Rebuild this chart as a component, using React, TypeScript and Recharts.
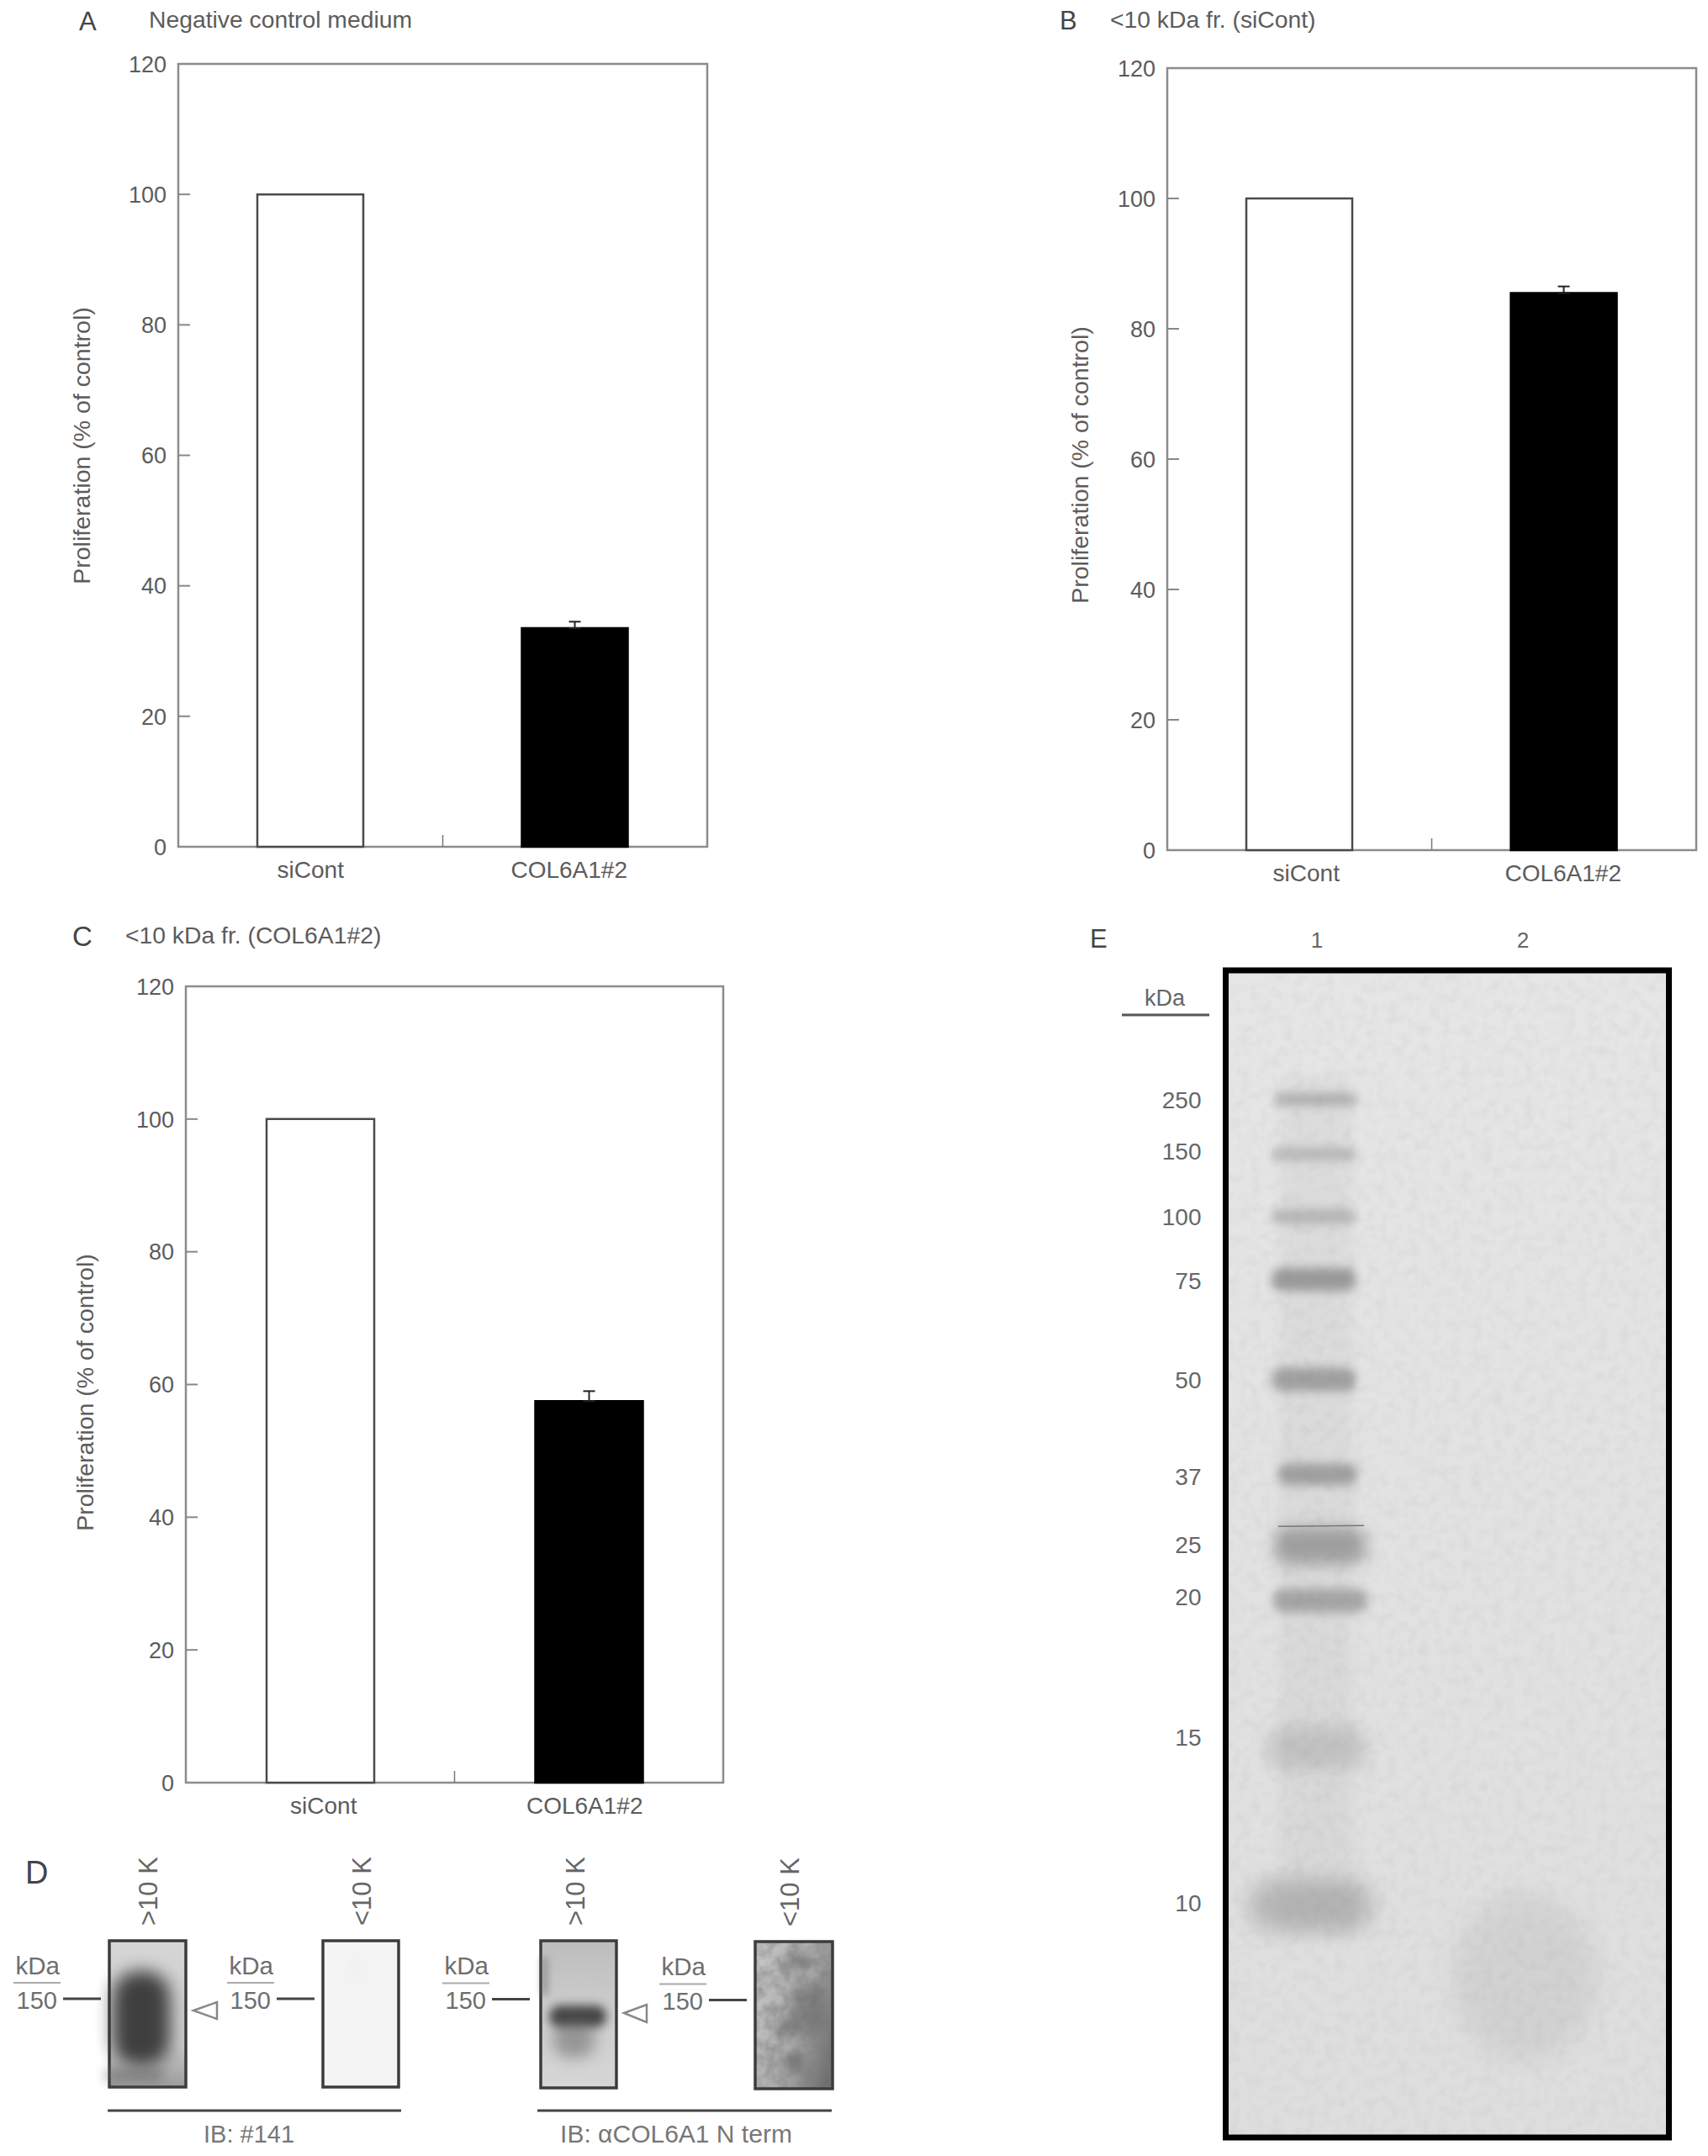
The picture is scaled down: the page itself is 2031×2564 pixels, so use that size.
import React from 'react';
import {
  BarChart, Bar, Cell, XAxis, YAxis, ErrorBar, ReferenceArea,
  ScatterChart, Scatter,
} from 'recharts';

const FONT = '"Liberation Sans", Arial, sans-serif';
const INK = '#5c5c5c';

// bar panels A, B, C
const categories = ['siCont', 'COL6A1#2'];
const yTicks = [0, 20, 40, 60, 80, 100, 120];
const panelAValues = [100, 33.5];
const panelAErrors = [null, 1];
const panelBValues = [100, 85.5];
const panelBErrors = [null, 1];
const panelCValues = [100, 57.5];
const panelCErrors = [null, 1.5];

// gel in panel E, migration = % of gel length from the top
const ladderKda = ['250', '150', '100', '75', '50', '37', '25', '20', '15', '10'];
const ladderLabelMigration = [11.06, 15.45, 21.07, 26.6, 35.05, 43.4, 49.2, 53.7, 65.7, 79.9];
const ladderBandMigration = [11.06, 15.74, 21.07, 26.48, 35.05, 43.2, 49.3, 54.0, 66.6, 80.1];
const laneTwoBandMigration = [86.3];

// looks for the gel bands, same order as above
const ladderLooks = [
  { w: 98, h: 14, op: 0.4, dx: -1 },
  { w: 100, h: 15, op: 0.32, dx: -4 },
  { w: 100, h: 18, op: 0.32, dx: -4 },
  { w: 100, h: 27, op: 0.56, dx: -4 },
  { w: 100, h: 28, op: 0.5, dx: -4 },
  { w: 94, h: 26, op: 0.5, dx: 1 },
  { w: 110, h: 44, op: 0.5, dx: 4, scar: true },
  { w: 112, h: 28, op: 0.46, dx: 4 },
  { w: 120, h: 50, op: 0.2, dx: 0 },
  { w: 146, h: 60, op: 0.32, dx: -7 },
];

// western blots in panel D
const blotMarkerKda = ['150'];
const blotMarkerMigration = [39.7];
const blotLabels = ['>10 K', '<10 K', '>10 K', '<10 K'];
const blotLabelLane = [0.52, 0.52, 0.47, 0.46];
const blotSignals = [
  [{ lane: 0.42, migration: 53, look: 0 }, { lane: 0.33, migration: 92, look: 1 }],
  [{ lane: 0.45, migration: 20, look: 5 }],
  [
    { lane: 0.49, migration: 51.4, look: 2 },
    { lane: 0.44, migration: 67, look: 3 },
    { lane: 0.05, migration: 24, look: 4 },
  ],
  [
    { lane: 0.52, migration: 14, look: 6 },
    { lane: 0.68, migration: 45, look: 7 },
    { lane: 0.42, migration: 58, look: 6 },
    { lane: 0.48, migration: 82, look: 6 },
  ],
];
const signalLooks = [
  { w: 68, h: 112, rx: 30, blur: 10, fill: '#383838', op: 0.95 },
  { w: 70, h: 14, rx: 7, blur: 7, fill: '#666', op: 0.6 },
  { w: 68, h: 26, rx: 13, blur: 6, fill: '#3a3a3a', op: 0.92 },
  { w: 50, h: 44, rx: 20, blur: 9, fill: '#666', op: 0.55 },
  { w: 8, h: 46, rx: 4, blur: 4, fill: '#666', op: 0.5 },
  { w: 30, h: 30, rx: 15, blur: 8, fill: '#eee', op: 0.6 },
  { w: 30, h: 20, rx: 10, blur: 6, fill: '#555', op: 0.4 },
  { w: 34, h: 60, rx: 15, blur: 8, fill: '#555', op: 0.45 },
];

const Y_AXIS_W = 120;
const X_AXIS_H = 60;

const YTick = (p: any) => {
  const v = p.payload.value;
  return (
    <g>
      {v !== 0 && v !== 120 && (
        <line x1={p.x + 14} x2={p.x + 28} y1={p.y} y2={p.y} stroke="#888" strokeWidth={2} />
      )}
      <text x={p.x} y={p.y} dy="0.36em" textAnchor="end" fontFamily={FONT} fontSize={27} fill={INK}>
        {v}
      </text>
    </g>
  );
};

const BarPanel = ({ plot, values, errors, barSize, labelX, labelY, shift }: any) => {
  const rows = categories.map((name, i) => ({
    name,
    value: values[i],
    err: errors[i] === null ? null : [0, errors[i]],
  }));
  const chartLeft = plot.left - Y_AXIS_W - 20;
  const chartTop = plot.top - 20;
  const width = plot.right - chartLeft + 20;
  const height = plot.bottom - chartTop + X_AXIS_H;
  const tickGap = 15;

  // the little divider between the two categories hangs off the first tick
  const XTick = (p: any) => (
    <g>
      {p.index === 0 && (
        <line
          x1={p.x + (plot.right - plot.left) / 4}
          x2={p.x + (plot.right - plot.left) / 4}
          y1={p.y - tickGap}
          y2={p.y - tickGap - 14}
          stroke="#777"
          strokeWidth={1.5}
        />
      )}
      <text x={p.x + shift[p.index]} y={p.y} dy="0.8em" textAnchor="middle" fontFamily={FONT} fontSize={28} fill={INK}>
        {p.payload.value}
      </text>
    </g>
  );

  return (
    <div style={{ position: 'absolute', left: chartLeft, top: chartTop }}>
      <BarChart
        width={width}
        height={height}
        data={rows}
        margin={{ left: 20, top: 20, right: 20, bottom: 0 }}
      >
        <XAxis dataKey="name" height={X_AXIS_H} tick={XTick} tickSize={0} tickMargin={tickGap} tickLine={false} axisLine={false} />
        <YAxis
          domain={[0, 120]}
          ticks={yTicks}
          width={Y_AXIS_W}
          interval={0}
          tick={YTick}
          tickSize={0}
          tickMargin={14}
          tickLine={false}
          axisLine={false}
        />
        <ReferenceArea y1={0} y2={120} fill="none" stroke="#8c8c8c" strokeWidth={2.5} ifOverflow="visible" />
        <Bar dataKey="value" barSize={barSize} isAnimationActive={false}>
          {rows.map((r, i) => (
            <Cell
              key={r.name}
              fill={i === 0 ? '#fff' : '#000'}
              stroke={i === 0 ? '#4a4a4a' : '#000'}
              strokeWidth={2.5}
            />
          ))}
          <ErrorBar dataKey="err" direction="y" width={7} stroke="#222" strokeWidth={2} isAnimationActive={false} />
        </Bar>
      </BarChart>
      <svg
        width={60}
        height={500}
        style={{ position: 'absolute', left: labelX - chartLeft - 30, top: labelY - chartTop - 250 }}
      >
        <text
          transform="translate(30 250) rotate(-90)"
          dy="0.36em"
          textAnchor="middle"
          fontFamily={FONT}
          fontSize={28.5}
          fill={INK}
        >
          Proliferation (% of control)
        </text>
      </svg>
    </div>
  );
};

const GelBand = (p: any) => {
  const look = ladderLooks[p.payload.band];
  const cx = p.cx + look.dx;
  return (
    <g>
      <rect
        x={cx - look.w / 2}
        y={p.cy - look.h / 2}
        width={look.w}
        height={look.h}
        rx={look.h / 2.5}
        fill="#666"
        opacity={look.op}
        style={{ filter: `blur(${Math.max(6, look.h / 5)}px)` }}
      />
      {look.scar && (
        <line x1={cx - 50} x2={cx + 52} y1={p.cy - 23} y2={p.cy - 24} stroke="#777" strokeWidth={1.5} />
      )}
    </g>
  );
};

const GelBlob = (p: any) => (
  <ellipse cx={p.cx} cy={p.cy} rx={86} ry={100} fill="#777" opacity={0.12} style={{ filter: 'blur(14px)' }} />
);

const GelPanel = () => {
  const plot = { left: 1457.5, right: 1984.5, top: 1153.5, bottom: 2541.5 };
  const chartLeft = 1300;
  const chartTop = plot.top - 60;
  const ladder = ladderBandMigration.map((migration, band) => ({ lane: 1, migration, band }));
  const laneTwo = laneTwoBandMigration.map((migration) => ({ lane: 2.01, migration }));

  const LadderTick = (p: any) => (
    <text x={p.x} y={p.y} dy="0.36em" textAnchor="end" fontFamily={FONT} fontSize={28} fill="#666">
      {ladderKda[p.index]}
    </text>
  );

  return (
    <div style={{ position: 'absolute', left: chartLeft, top: chartTop }}>
      <ScatterChart
        width={plot.right - chartLeft + 10}
        height={plot.bottom - chartTop + 10}
        margin={{ left: plot.left - chartLeft - 150, top: 0, right: 10, bottom: 10 }}
      >
        <XAxis
          type="number"
          dataKey="lane"
          orientation="top"
          domain={[0.557, 2.708]}
          ticks={[1, 2]}
          height={60}
          tick={{ fontFamily: FONT, fontSize: 26, fill: '#666' }}
          tickFormatter={(v: number) => String(v)}
          tickSize={0}
          tickMargin={27}
          tickLine={false}
          axisLine={false}
        />
        <YAxis
          type="number"
          dataKey="migration"
          reversed
          domain={[0, 100]}
          ticks={ladderLabelMigration}
          interval={0}
          width={150}
          tick={LadderTick}
          tickSize={0}
          tickMargin={29}
          tickLine={false}
          axisLine={false}
        />
        <ReferenceArea
          shape={(p: any) => (
            <g>
              <rect x={p.x} y={p.y} width={p.width} height={p.height} fill="url(#gelBg)" stroke="#000" strokeWidth={7} />
              <rect x={p.x + 4} y={p.y + 4} width={p.width - 8} height={p.height - 8} filter="url(#gelNoise)" />
            </g>
          )}
        />
        <ReferenceArea
          x1={0.82}
          x2={1.17}
          y1={9}
          y2={83}
          shape={(p: any) => (
            <rect x={p.x} y={p.y} width={p.width} height={p.height} fill="#000" opacity={0.03} style={{ filter: 'blur(8px)' }} />
          )}
        />
        <Scatter data={laneTwo} shape={GelBlob} isAnimationActive={false} />
        <Scatter data={ladder} shape={GelBand} isAnimationActive={false} />
      </ScatterChart>
    </div>
  );
};

const BlotSignal = (p: any) => {
  const look = signalLooks[p.payload.look];
  return (
    <rect
      x={p.cx - look.w / 2}
      y={p.cy - look.h / 2}
      width={look.w}
      height={look.h}
      rx={look.rx}
      fill={look.fill}
      opacity={look.op}
      style={{ filter: `blur(${look.blur}px)` }}
    />
  );
};

const Blot = ({ index, plot, background, noise, markerShift }: any) => {
  const yAxisW = 130;
  const chartLeft = plot.left - yAxisW;
  const chartTop = plot.top - 110;

  const MarkerTick = (p: any) => (
    <g fontFamily={FONT} fill="#6e6e6e">
      <text x={p.x - 59 + markerShift} y={p.y - 29} textAnchor="end" fontSize={29.5}>kDa</text>
      <line x1={p.x - 114 + markerShift} x2={p.x - 58 + markerShift} y1={p.y - 19} y2={p.y - 19} stroke="#aaa" strokeWidth={2} />
      <text x={p.x - 62 + markerShift} y={p.y + 12} textAnchor="end" fontSize={29}>{p.payload.value}</text>
      <line x1={p.x - 55 + markerShift} x2={p.x - 10 + markerShift} y1={p.y} y2={p.y} stroke="#444" strokeWidth={3} />
    </g>
  );

  const LabelTick = (p: any) => (
    <text
      transform={`translate(${p.x + 10} ${p.y - 18}) rotate(-90)`}
      fontFamily={FONT}
      fontSize={31}
      fill="#666"
    >
      {blotLabels[index]}
    </text>
  );

  return (
    <div style={{ position: 'absolute', left: chartLeft, top: chartTop }}>
      <ScatterChart
        width={plot.right - chartLeft + 8}
        height={plot.bottom - chartTop + 8}
        margin={{ left: 0, top: 0, right: 8, bottom: 8 }}
      >
        <XAxis
          type="number"
          dataKey="lane"
          orientation="top"
          domain={[0, 1]}
          ticks={[blotLabelLane[index]]}
          height={110}
          tick={LabelTick}
          tickSize={0}
          tickMargin={0}
          tickLine={false}
          axisLine={false}
        />
        <YAxis
          type="number"
          dataKey="migration"
          reversed
          domain={[0, 100]}
          ticks={blotMarkerMigration}
          tickFormatter={() => blotMarkerKda[0]}
          width={yAxisW}
          tick={(p: any) => <MarkerTick {...p} payload={{ value: blotMarkerKda[0] }} />}
          tickSize={0}
          tickMargin={0}
          tickLine={false}
          axisLine={false}
        />
        <ReferenceArea
          shape={(p: any) => (
            <g>
              <rect x={p.x} y={p.y} width={p.width} height={p.height} fill={background} />
              {noise && <rect x={p.x} y={p.y} width={p.width} height={p.height} filter="url(#blotNoise)" />}
            </g>
          )}
        />
        <Scatter data={blotSignals[index]} shape={BlotSignal} isAnimationActive={false} />
        <ReferenceArea y1={0} y2={100} fill="none" stroke="#3c3c3c" strokeWidth={3.5} ifOverflow="visible" />
      </ScatterChart>
    </div>
  );
};

const Txt = ({ x, y, size = 28.3, fill = INK, anchor = 'start', children }: any) => (
  <text x={x} y={y} fontFamily={FONT} fontSize={size} fill={fill} textAnchor={anchor}>
    {children}
  </text>
);

export default function App() {
  return (
    <div
      style={{
        position: 'absolute', left: 0, top: 0, width: 2031, height: 2564,
        background: '#fff', overflow: 'hidden',
      }}
    >
      <svg width={0} height={0} style={{ position: 'absolute' }}>
        <defs>
          <linearGradient id="gelBg" x1="0" y1="0" x2="0" y2="1">
            <stop offset="0" stopColor="#e6e6e6" />
            <stop offset="1" stopColor="#dedede" />
          </linearGradient>
          <linearGradient id="blotOne" x1="0" y1="0" x2="0" y2="1">
            <stop offset="0" stopColor="#d6d6d6" />
            <stop offset="0.7" stopColor="#cacaca" />
            <stop offset="1" stopColor="#9c9c9c" />
          </linearGradient>
          <linearGradient id="blotThree" x1="0" y1="0" x2="0" y2="1">
            <stop offset="0" stopColor="#bdbdbd" />
            <stop offset="0.5" stopColor="#cdcdcd" />
            <stop offset="1" stopColor="#d6d6d6" />
          </linearGradient>
          <linearGradient id="blotFour" x1="0" y1="0.3" x2="1" y2="0.8">
            <stop offset="0" stopColor="#c4c4c4" />
            <stop offset="0.55" stopColor="#a8a8a8" />
            <stop offset="1" stopColor="#6e6e6e" />
          </linearGradient>
          <filter id="gelNoise" x="0" y="0" width="1" height="1">
            <feTurbulence type="fractalNoise" baseFrequency="0.08" numOctaves={2} seed={4} />
            <feColorMatrix values="0 0 0 0 0.4  0 0 0 0 0.4  0 0 0 0 0.4  0.3 0 0 0 -0.12" />
          </filter>
          <filter id="blotNoise" x="0" y="0" width="1" height="1">
            <feTurbulence type="fractalNoise" baseFrequency="0.07" numOctaves={3} seed={9} />
            <feColorMatrix values="0 0 0 0 0.2  0 0 0 0 0.2  0 0 0 0 0.2  1.1 0 0 0 -0.35" />
          </filter>
        </defs>
      </svg>

      <BarPanel
        plot={{ left: 212, right: 841, top: 76, bottom: 1007 }}
        values={panelAValues}
        errors={panelAErrors}
        barSize={126}
        labelX={97}
        labelY={530}
        shift={[0, -7]}
      />
      <BarPanel
        plot={{ left: 1388, right: 2017, top: 81, bottom: 1011 }}
        values={panelBValues}
        errors={panelBErrors}
        barSize={126}
        labelX={1284}
        labelY={553}
        shift={[8, -1]}
      />
      <BarPanel
        plot={{ left: 221, right: 860, top: 1173, bottom: 2120 }}
        values={panelCValues}
        errors={panelCErrors}
        barSize={128}
        labelX={101}
        labelY={1656}
        shift={[4, -5]}
      />

      <Blot index={0} plot={{ left: 130, right: 221, top: 2308, bottom: 2482 }} background="url(#blotOne)" markerShift={0} />
      <Blot index={1} plot={{ left: 384, right: 474, top: 2308, bottom: 2482 }} background="#f4f4f4" markerShift={0} />
      <Blot index={2} plot={{ left: 643, right: 733, top: 2308, bottom: 2483 }} background="url(#blotThree)" markerShift={-3} />
      <Blot index={3} plot={{ left: 898, right: 990, top: 2309, bottom: 2484 }} background="url(#blotFour)" noise markerShift={0} />

      <GelPanel />

      <svg width={2031} height={2564} style={{ position: 'absolute', left: 0, top: 0, pointerEvents: 'none' }}>
        <Txt x={94} y={36} size={31} fill="#444">A</Txt>
        <Txt x={177} y={33}>Negative control medium</Txt>
        <Txt x={1260} y={35} size={31} fill="#444">B</Txt>
        <Txt x={1320} y={33}>{'<10 kDa fr. (siCont)'}</Txt>
        <Txt x={86} y={1125} size={33} fill="#444">C</Txt>
        <Txt x={149} y={1122}>{'<10 kDa fr. (COL6A1#2)'}</Txt>
        <Txt x={30} y={2240} size={38} fill="#444">D</Txt>
        <Txt x={1296} y={1127} size={31} fill="#444">E</Txt>

        <polygon points="230,2391 258,2381 258,2401" fill="#fff" stroke="#888" strokeWidth={2.5} />
        <polygon points="742,2394 769,2384 769,2405" fill="#fff" stroke="#888" strokeWidth={2.5} />
        <line x1={128} x2={477} y1={2510} y2={2510} stroke="#444" strokeWidth={3} />
        <line x1={639} x2={989} y1={2510} y2={2510} stroke="#444" strokeWidth={3} />
        <Txt x={296} y={2548} size={29} fill="#777" anchor="middle">IB: #141</Txt>
        <Txt x={804} y={2548} size={30} fill="#777" anchor="middle">IB: αCOL6A1 N term</Txt>

        <Txt x={1385} y={1196} size={27} fill="#666" anchor="middle">kDa</Txt>
        <line x1={1334} x2={1438} y1={1207} y2={1207} stroke="#555" strokeWidth={3} />
      </svg>
    </div>
  );
}
